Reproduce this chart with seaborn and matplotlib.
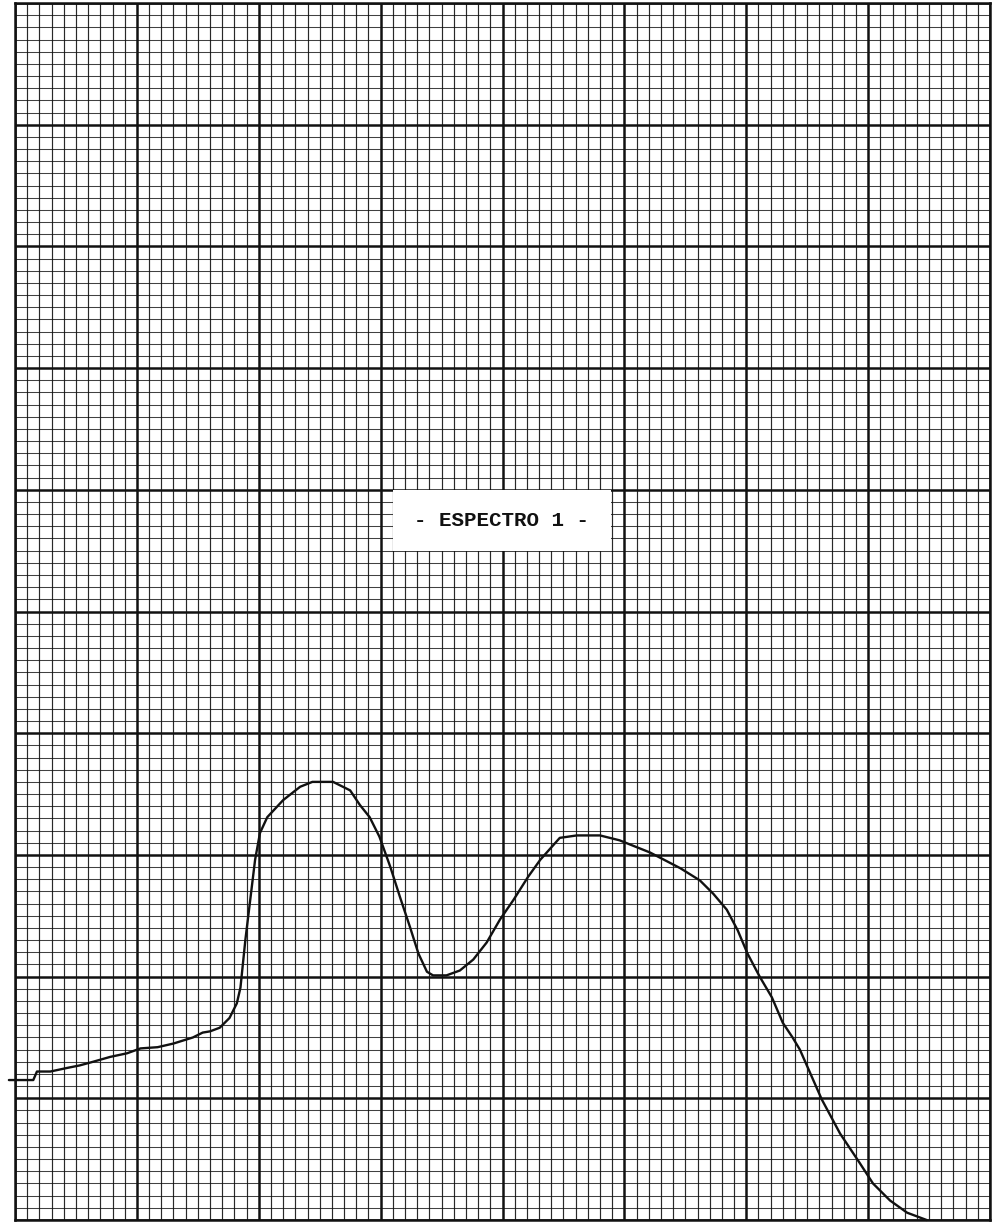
"""
Espectro 1 - trace redrawn on millimetre-style graph paper.
Units are small grid divisions: 80 across, 100 up.
"""

import numpy as np
import pandas as pd
import matplotlib
import matplotlib.pyplot as plt
import matplotlib.patches as mpatches
import seaborn as sns

matplotlib.use("Agg")

# Data (in small-division units)

trace_x = [-0.5, 1.5, 1.8, 2.9, 4.3, 5.3, 6.4, 7.8, 9.2, 10.3, 11.7, 13.0,
           14.6, 15.4, 16.0, 16.8, 17.6, 18.2, 18.5, 18.9, 19.3, 19.7, 20.1,
           20.7, 22.0, 23.4, 24.4, 26.1, 27.5, 28.3, 29.1, 29.9, 30.8, 31.6,
           32.4, 33.1, 33.8, 34.3, 35.4, 36.5, 37.6, 38.7, 39.8, 40.9, 42.1,
           43.1, 44.7, 46.1, 48.0, 49.6, 52.1, 54.6, 56.2, 57.3, 58.4, 59.3,
           60.1, 61.1, 62.1, 63.0, 63.8, 64.4, 66.2, 67.7, 69.3, 70.4, 71.8,
           73.2, 74.8]
trace_y = [11.5, 11.5, 12.2, 12.2, 12.5, 12.7, 13.0, 13.4, 13.7, 14.1, 14.2, 14.5,
           15.0, 15.4, 15.5, 15.8, 16.6, 17.8, 19.1, 23.0, 26.3, 29.6, 31.8,
           33.1, 34.5, 35.6, 36.0, 36.0, 35.3, 34.1, 33.1, 31.5, 29.0, 26.5,
           24.1, 21.9, 20.4, 20.1, 20.1, 20.5, 21.4, 22.8, 24.7, 26.3, 28.2,
           29.6, 31.4, 31.6, 31.6, 31.2, 30.2, 28.9, 27.9, 26.8, 25.5, 23.8,
           21.9, 20.0, 18.3, 16.2, 15.0, 14.0, 9.9, 7.1, 4.7, 3.0, 1.6,
           0.6, 0.0]

label_text = "- ESPECTRO 1 -"

X_DIVS = 80
Y_DIVS = 100
MAJOR = 10

INK = "#111111"

sns.set_theme(style="white")

fig = plt.figure(figsize=(9.93, 12.25), dpi=100)
ax = fig.add_axes([15 / 993, 5 / 1225, 975 / 993, 1217 / 1225])

df = pd.DataFrame({"x": trace_x, "y": trace_y})

# graph paper
ax.set_xlim(0, X_DIVS)
ax.set_ylim(0, Y_DIVS)
ax.set_xticks(np.arange(0, X_DIVS + 1, MAJOR))
ax.set_yticks(np.arange(0, Y_DIVS + 1, MAJOR))
ax.set_xticks(np.arange(0, X_DIVS + 1, 1), minor=True)
ax.set_yticks(np.arange(0, Y_DIVS + 1, 1), minor=True)
ax.grid(which="minor", axis="x", color=INK, linewidth=0.85, alpha=0.9)
ax.grid(which="minor", axis="y", color=INK, linewidth=0.75, alpha=0.8)
ax.grid(which="major", color=INK, linewidth=1.8)
ax.tick_params(which="both", length=0, labelbottom=False, labelleft=False)
ax.set_axisbelow(True)
for s in ax.spines.values():
    s.set_color(INK)
    s.set_linewidth(1.8)

# the trace
sns.lineplot(data=df, x="x", y="y", sort=False, color=INK, linewidth=1.7,
             ax=ax, clip_on=False, zorder=3)
ax.set_xlabel("")
ax.set_ylabel("")

# white label patch pasted on the paper
ax.add_patch(mpatches.Rectangle((31.0, 55.0), 17.9, 5.0, facecolor="white",
                                edgecolor="none", zorder=4))
ax.text(39.9, 57.5, label_text, ha="center", va="center", fontsize=15,
        fontweight="bold", family="Liberation Mono", color=INK, zorder=5)

fig.savefig("out.png", dpi=100, facecolor="white")
plt.close(fig)
